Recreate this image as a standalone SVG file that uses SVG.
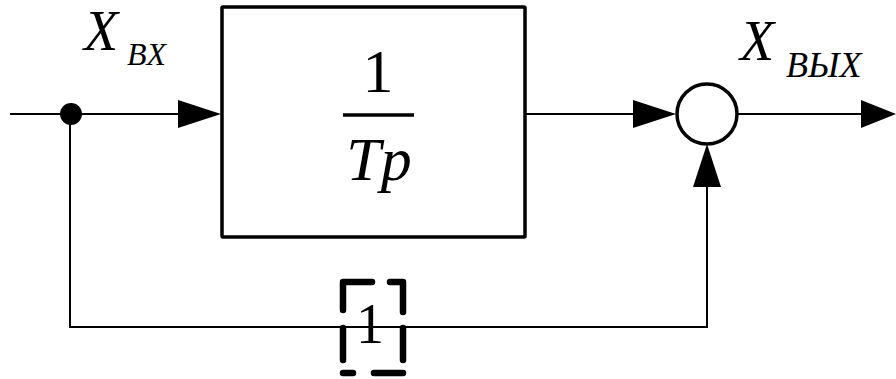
<svg xmlns="http://www.w3.org/2000/svg" width="896" height="379" viewBox="0 0 896 379">
<style>
.ln{fill:none;stroke:#000;stroke-width:2}
.thick{fill:none;stroke:#000;stroke-width:3.5}
.ah{fill:#000;stroke:none}
.dash{fill:none;stroke:#000;stroke-width:6.5;stroke-linecap:round;stroke-linejoin:round}
</style>
<g id="connectors">
<path class="ln" d="M10,114 H180"/>
<polygon class="ah" points="178,100 221,114 178,128"/>
<path class="ln" d="M525,114 H635"/>
<polygon class="ah" points="633,100 676,114 633,128"/>
<path class="ln" d="M737,114 H862"/>
<polygon class="ah" points="861,100 896,114 861,128"/>
<path class="ln" d="M70,114 V327 H707 V186"/>
<polygon class="ah" points="693,187 707,144 721,187"/>
<circle cx="71" cy="114" r="11" fill="#000"/>
</g>
<g font-family="Liberation Serif, Tinos, Times New Roman, DejaVu Serif, serif" fill="#000">
<g id="block">
<rect class="thick" x="222" y="7" width="303" height="230" rx="1"/>
<text x="378" y="92" font-size="62" text-anchor="middle">1</text>
<path d="M343,115 H414" stroke="#000" stroke-width="3.5"/>
<text x="379" y="180" font-size="62" font-style="italic" text-anchor="middle">Tp</text>
</g>
<g id="sum">
<circle class="thick" cx="707" cy="114" r="30" fill="#fff"/>
</g>
<g id="gain">
<path class="dash" d="M343,310 V282 H372"/>
<path class="dash" d="M390,282 H403 V312"/>
<path class="dash" d="M343,328 V360"/>
<path class="dash" d="M403,328 V360"/>
<path class="dash" d="M343,373 H353"/>
<path class="dash" d="M374,373 H403"/>
<text x="370" y="343" font-size="56" text-anchor="middle">1</text>
</g>
<g id="label-in" font-style="italic">
<text x="84" y="50" font-size="56">X</text>
<text x="127" y="65" font-size="32">BX</text>
</g>
<g id="label-out" font-style="italic">
<text x="740" y="60" font-size="56">X</text>
<text x="786" y="77" font-size="36">ВЫХ</text>
</g>
</g>
</svg>
